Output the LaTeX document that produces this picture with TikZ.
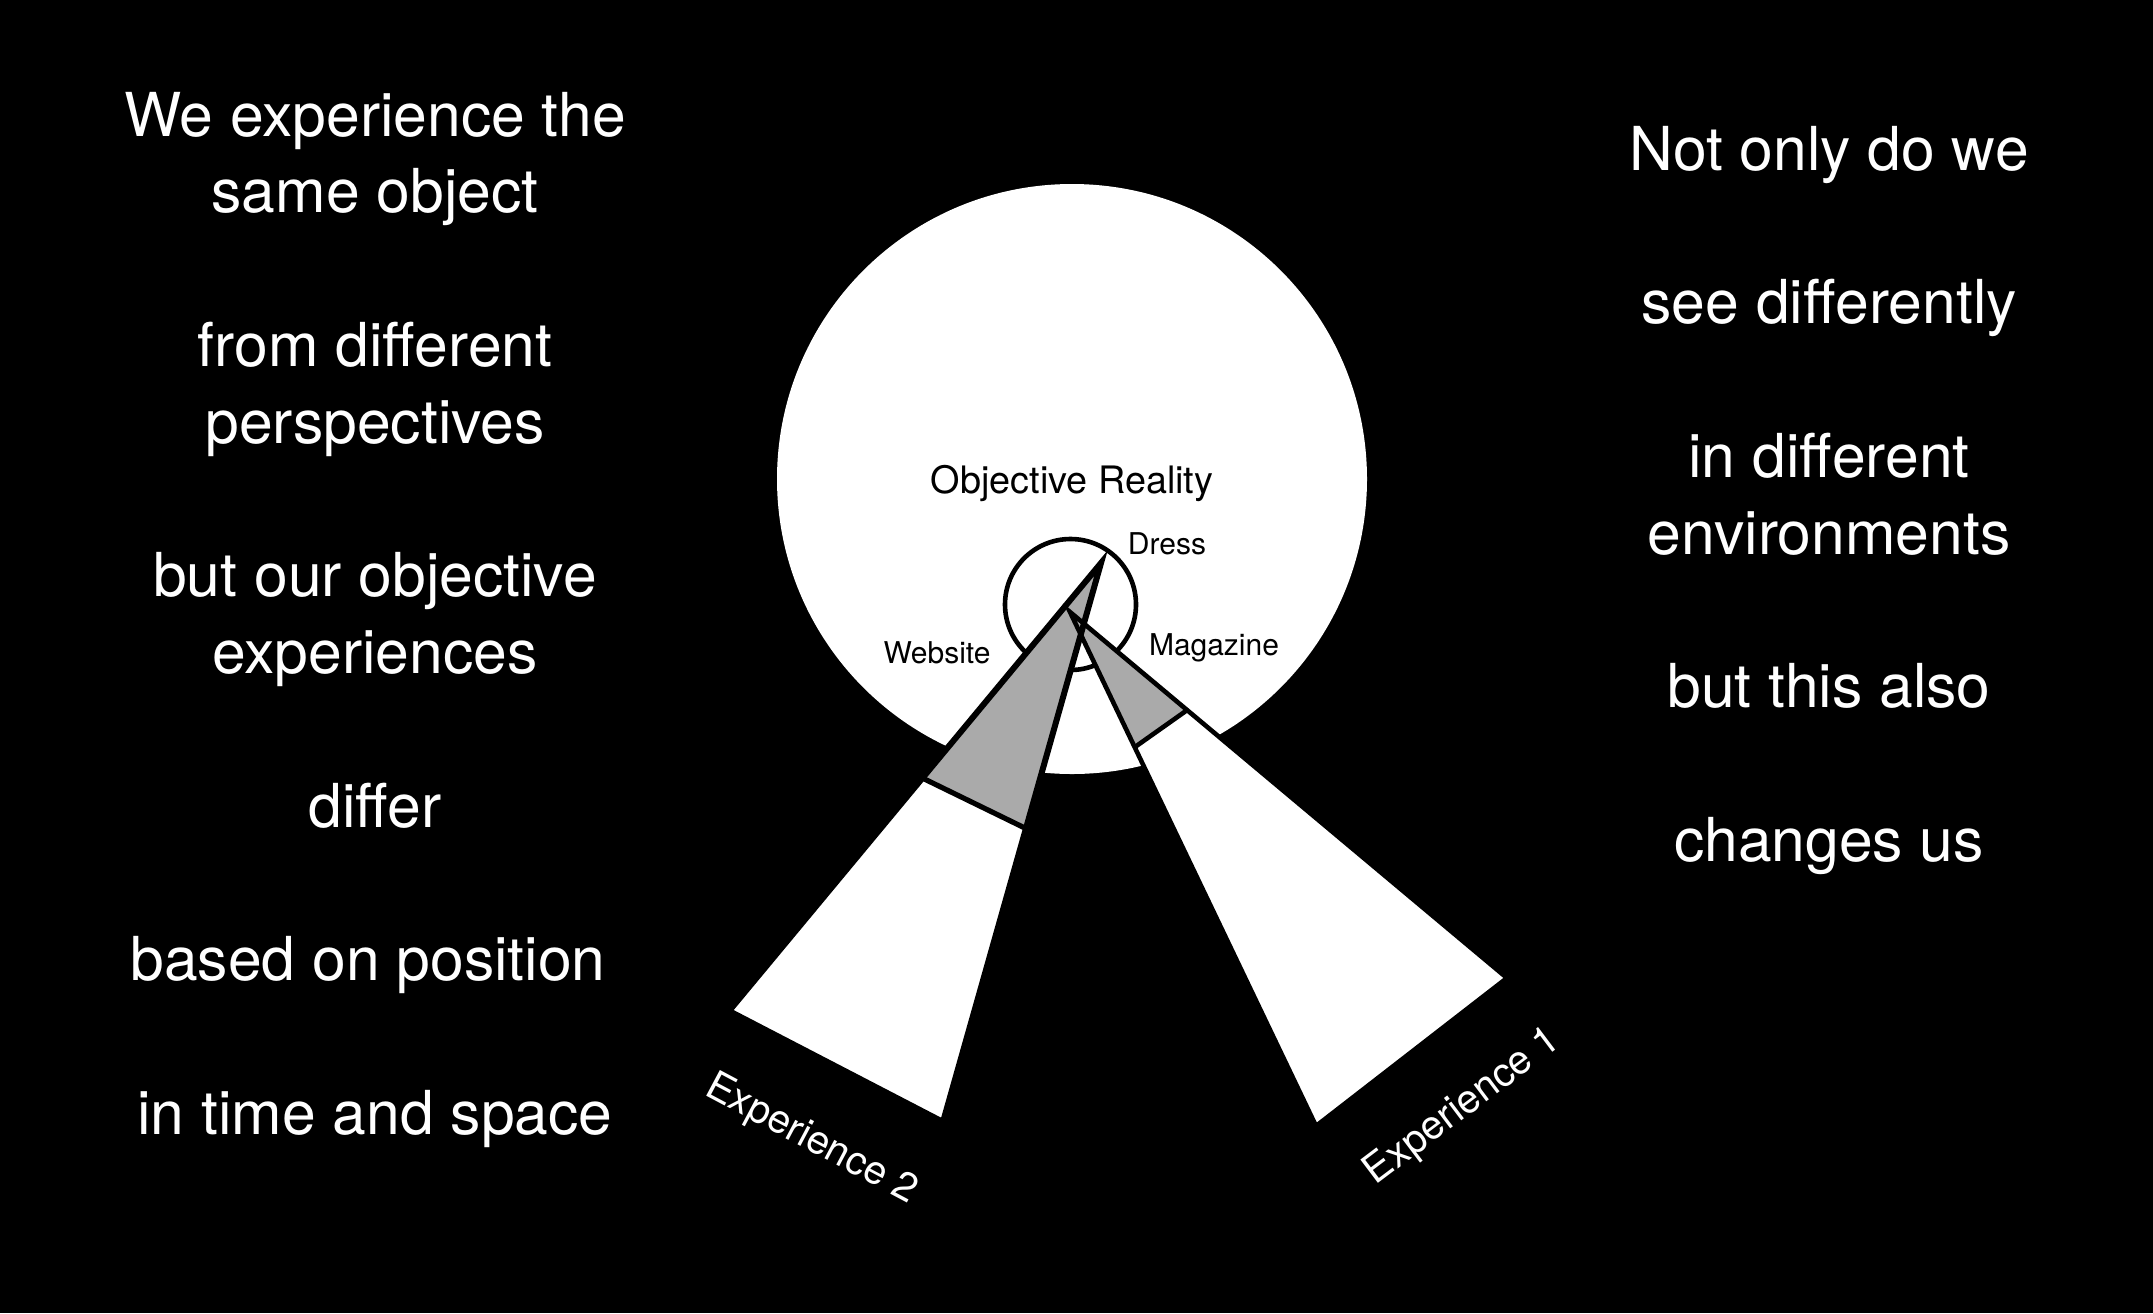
\documentclass[tikz,border=0pt]{standalone}
\usepackage{fontspec}
\setmainfont{TeX Gyre Heros}
\usetikzlibrary{calc}
\definecolor{conegrey}{RGB}{170,170,170}
\def\bigsize{\fontsize{30.3pt}{36pt}\selectfont}
\def\lblsize{\fontsize{15pt}{18pt}\selectfont}

\begin{document}
\begin{tikzpicture}[x=0.5pt,y=0.5pt,yscale=-1,xscale=1,
	bigtxt/.style={anchor=base,inner sep=0.75pt,text=white,font=\bigsize},
	lbl/.style={anchor=base,inner sep=0.75pt,text=black,font=\lblsize},
	explbl/.style={anchor=center,inner sep=0.75pt,text=white,font=\fontsize{20pt}{24pt}\selectfont},
	coneline/.style={draw=black,line join=miter}]
	% background
	\fill [black] (0,0) rectangle (2153,1313) ;
	% objective reality and the dress
	\fill [white] (1072,479) circle [radius=295] ;
	\draw [line width=2.3pt, fill=white] (1070.5,604.5) circle [radius=65.5] ;
	% cone points
	\coordinate (tipB) at (1101,563) ;
	\coordinate (farBL) at (729,1011) ;
	\coordinate (farBR) at (943,1122) ;
	\coordinate (cutBL) at ($(tipB)!0.48!(farBL)$) ;
	\coordinate (cutBR) at ($(tipB)!0.475!(farBR)$) ;
	\coordinate (tipA) at (1070,612) ;
	\coordinate (farAL) at (1316,1126) ;
	\coordinate (farAR) at (1507,978) ;
	\coordinate (cutAL) at ($(tipA)!0.263!(farAL)$) ;
	\coordinate (cutAR) at ($(tipA)!0.268!(farAR)$) ;
	% fills
	\fill [white] (tipB) -- (farBL) -- (farBR) -- cycle ;
	\fill [conegrey] (tipB) -- (cutBL) -- (cutBR) -- cycle ;
	\fill [white] (tipA) -- (farAL) -- (farAR) -- cycle ;
	\fill [conegrey] (tipA) -- (cutAL) -- (cutAR) -- cycle ;
	% outlines
	\draw [coneline, line width=3pt] (tipB) -- (farBL) -- (farBR) -- cycle ;
	\draw [coneline, line width=2.6pt] (cutBL) -- (cutBR) ;
	\draw [coneline, line width=2.3pt] (tipA) -- (farAL) -- (farAR) -- cycle ;
	\draw [coneline, line width=2.3pt] (cutAL) -- (cutAR) ;
	% diagram labels
	\draw (1072,493) node [anchor=base][inner sep=0.75pt][font=\fontsize{18.9pt}{22pt}\selectfont] (reality) {Objective Reality};
	\draw (1167,554) node [lbl] (dress) {Dress};
	\draw (937,663) node [lbl] (website) {Website};
	\draw (1214,655) node [lbl] (magazine) {Magazine};
	\draw (1463,1107) node [explbl, rotate=37] (expone) {Experience 1};
	\draw (811,1140) node [explbl, rotate=-28] (exptwo) {Experience 2};
	% left column
	\draw (375,136) node [bigtxt] (lft1) {We experience the};
	\draw (375,212.8) node [bigtxt] (lft2) {same object};
	\draw (375,366.4) node [bigtxt] (lft3) {from different};
	\draw (375,443.2) node [bigtxt] (lft4) {perspectives};
	\draw (375,596.8) node [bigtxt] (lft5) {but our objective};
	\draw (375,673.6) node [bigtxt] (lft6) {experiences};
	\draw (375,827.2) node [bigtxt] (lft7) {differ};
	\draw (368,980.8) node [bigtxt] (lft8) {based on position};
	\draw (375,1134.4) node [bigtxt] (lft9) {in time and space};
	% right column
	\draw (1829,170) node [bigtxt] (rgt1) {Not only do we};
	\draw (1829,323.6) node [bigtxt] (rgt2) {see differently};
	\draw (1829,477.2) node [bigtxt] (rgt3) {in different};
	\draw (1829,554) node [bigtxt] (rgt4) {environments};
	\draw (1829,707.6) node [bigtxt] (rgt5) {but this also};
	\draw (1829,861.2) node [bigtxt] (rgt6) {changes us};
\end{tikzpicture}
\end{document}
